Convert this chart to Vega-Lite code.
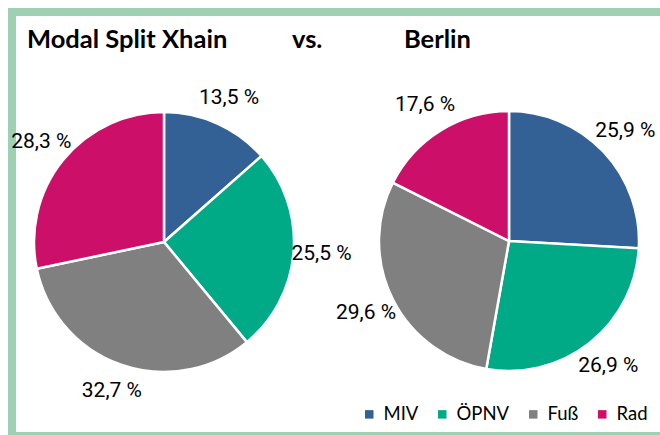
{
  "$schema": "https://vega.github.io/schema/vega-lite/v6.json",
  "autosize": "none",
  "width": 660,
  "height": 435,
  "padding": 0,
  "background": "white",
  "config": {"view": {"stroke": null}},
  "data": {"values": [
    {"city": "Xhain", "mode": "MIV", "k": 1, "value": 13.5},
    {"city": "Xhain", "mode": "ÖPNV", "k": 2, "value": 25.5},
    {"city": "Xhain", "mode": "Fuß", "k": 3, "value": 32.7},
    {"city": "Xhain", "mode": "Rad", "k": 4, "value": 28.3},
    {"city": "Berlin", "mode": "MIV", "k": 1, "value": 25.9},
    {"city": "Berlin", "mode": "ÖPNV", "k": 2, "value": 26.9},
    {"city": "Berlin", "mode": "Fuß", "k": 3, "value": 29.6},
    {"city": "Berlin", "mode": "Rad", "k": 4, "value": 17.6}
  ]},
  "transform": [
    {"calculate": "replace(format(datum.value, '.1f'), '.', ',') + ' %'", "as": "label"}
  ],
  "layer": [
    {
      "data": {"values": [{}]},
      "mark": {"type": "rect", "x": 8, "x2": 660, "y": 8, "y2": 16, "fill": "#9ed0b4"},
      "encoding": {}
    },
    {
      "data": {"values": [{}]},
      "mark": {"type": "rect", "x": 8, "x2": 16, "y": 8, "y2": 435, "fill": "#9ed0b4"},
      "encoding": {}
    },
    {
      "data": {"values": [{}]},
      "mark": {"type": "rect", "x": 8, "x2": 660, "y": 432, "y2": 435, "fill": "#9ed0b4"},
      "encoding": {}
    },
    {
      "data": {"values": [{}]},
      "mark": {"type": "text", "text": "Modal Split Xhain", "x": 27, "y": 48, "align": "left", "baseline": "alphabetic", "font": "Lato", "fontWeight": "bold", "fontSize": 25.5, "fill": "black"},
      "encoding": {}
    },
    {
      "data": {"values": [{}]},
      "mark": {"type": "text", "text": "vs.", "x": 292, "y": 48, "align": "left", "baseline": "alphabetic", "font": "Lato", "fontWeight": "bold", "fontSize": 25.5, "fill": "black"},
      "encoding": {}
    },
    {
      "data": {"values": [{}]},
      "mark": {"type": "text", "text": "Berlin", "x": 404, "y": 48, "align": "left", "baseline": "alphabetic", "font": "Lato", "fontWeight": "bold", "fontSize": 25.5, "fill": "black"},
      "encoding": {}
    },
    {
      "transform": [{"filter": "datum.city == 'Xhain'"}],
      "mark": {"type": "arc", "x": 164, "y": 242, "outerRadius": 130, "stroke": "white", "strokeWidth": 2.5},
      "encoding": {
        "theta": {"field": "value", "type": "quantitative", "stack": true},
        "order": {"field": "k", "type": "quantitative"},
        "color": {
          "field": "mode", "type": "nominal",
          "scale": {"domain": ["MIV", "ÖPNV", "Fuß", "Rad"], "range": ["#336196", "#00aa86", "#808080", "#cc0f69"]},
          "legend": {
            "title": null, "orient": "none", "direction": "horizontal", "legendX": 360, "legendY": 405,
            "symbolType": "square", "symbolSize": 72, "symbolStrokeWidth": 0, "symbolOpacity": 1,
            "labelFont": "Lato", "labelFontSize": 18.5, "labelColor": "black", "labelOffset": 5,
            "columnPadding": 14, "padding": 0
          }
        }
      }
    },
    {
      "transform": [{"filter": "datum.city == 'Xhain'"}],
      "mark": {"type": "text", "x": 164, "y": 242, "radius": 158, "font": "Roboto", "fontSize": 21, "fill": "black"},
      "encoding": {
        "theta": {"field": "value", "type": "quantitative", "stack": true},
        "order": {"field": "k", "type": "quantitative"},
        "text": {"field": "label", "type": "nominal"}
      }
    },
    {
      "transform": [{"filter": "datum.city == 'Berlin'"}],
      "mark": {"type": "arc", "x": 509, "y": 241, "outerRadius": 130, "stroke": "white", "strokeWidth": 2.5},
      "encoding": {
        "theta": {"field": "value", "type": "quantitative", "stack": true},
        "order": {"field": "k", "type": "quantitative"},
        "color": {"field": "mode", "type": "nominal"}
      }
    },
    {
      "transform": [{"filter": "datum.city == 'Berlin'"}],
      "mark": {"type": "text", "x": 509, "y": 241, "radius": 160, "font": "Roboto", "fontSize": 21, "fill": "black"},
      "encoding": {
        "theta": {"field": "value", "type": "quantitative", "stack": true},
        "order": {"field": "k", "type": "quantitative"},
        "text": {"field": "label", "type": "nominal"}
      }
    }
  ]
}
